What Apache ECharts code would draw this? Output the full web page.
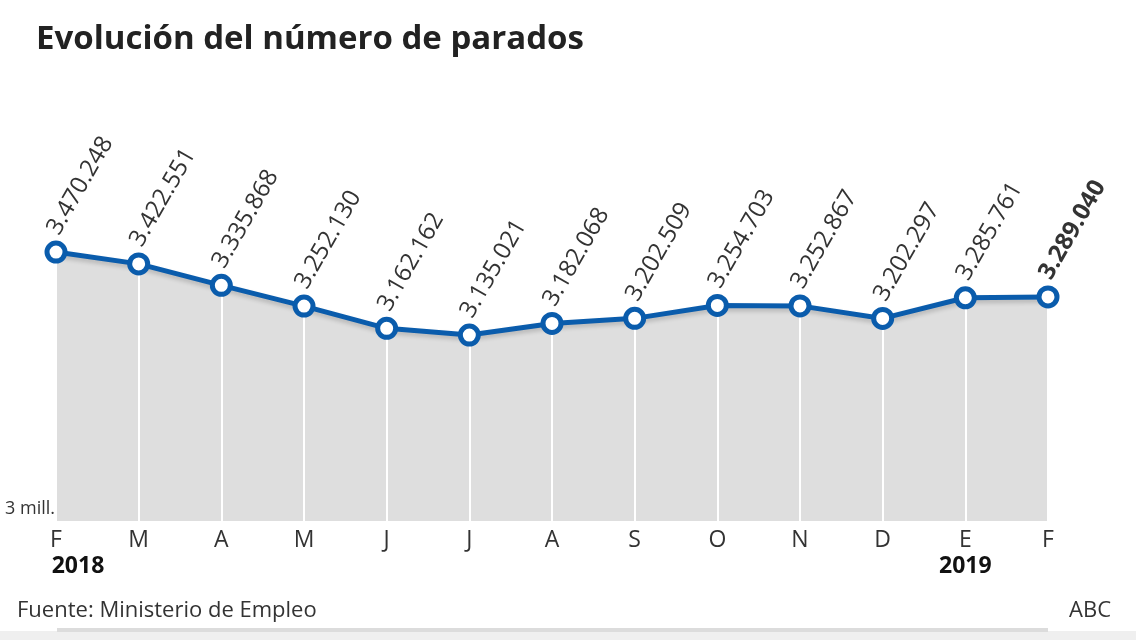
<!DOCTYPE html>
<html>
<head>
<meta charset="utf-8">
<script src="https://cdn.jsdelivr.net/npm/echarts@6/dist/echarts.min.js"></script>
<style>
html,body{margin:0;padding:0;background:#fff;}
#c{width:1136px;height:640px;}
</style>
</head>
<body>
<div id="c"></div>
<script>
const months = ['F','M','A','M','J','J','A','S','O','N','D','E','F'];
const years = {0:'2018', 11:'2019'};
const parados = [3470248, 3422551, 3335868, 3252130, 3162162, 3135021, 3182068, 3202509, 3254703, 3252867, 3202297, 3285761, 3289040];
const yMinLabel = '3 mill.';

const FONT = '"Open Sans", "Noto Sans", sans-serif';
const BLUE = '#0a5cac';

function fmt(v){ return String(v).replace(/\B(?=(\d{3})+(?!\d))/g, '.'); }

const chart = echarts.init(document.getElementById('c'), null, {renderer:'canvas'});
const last = parados.length - 1;
const seriesData = parados.map((v,i)=> i===last ? {value:v, label:{fontWeight:'bold'}} : v);

chart.setOption({
  animation:false,
  backgroundColor:'#fff',
  title:{
    text:'Evolución del número de parados',
    left:31, top:18,
    textStyle:{fontFamily:FONT, fontSize:33, fontWeight:'bold', color:'#222'}
  },
  grid:{left:56, right:88, top:140, bottom:119, containLabel:false},
  xAxis:{
    type:'category', data:months, boundaryGap:false,
    axisLine:{show:false}, axisTick:{show:false},
    splitLine:{show:true, lineStyle:{color:'#ffffff', width:2}},
    z:2,
    axisLabel:{
      margin:6, interval:0, color:'#333', fontFamily:FONT,
      formatter:(val, idx)=>{
        if (years[idx] !== undefined) {
          return '{m|'+val+'}\n{' + (idx===0?'y0':'y') + '|'+years[idx]+'}';
        }
        return '{m|'+val+'}';
      },
      rich:{
        m:{fontSize:23, color:'#333', fontFamily:FONT, lineHeight:26},
        y:{fontSize:23, fontWeight:'bold', color:'#111', fontFamily:FONT, lineHeight:26},
        y0:{fontSize:23, fontWeight:'bold', color:'#111', fontFamily:FONT, lineHeight:26, padding:[0,0,0,44]}
      }
    }
  },
  yAxis:{
    type:'value', min:2384000, max:3923000,
    show:false, splitLine:{show:false}
  },
  graphic:[
    {type:'text', right:1136-55, top:500, style:{text:yMinLabel, font:'18px '+FONT, fill:'#333', textAlign:'right'}},
    {type:'text', left:17, top:600, style:{text:'Fuente: Ministerio de Empleo', font:'22px '+FONT, fill:'#333'}},
    {type:'text', right:25, top:600, style:{text:'ABC', font:'22px '+FONT, fill:'#333'}},
    {type:'rect', shape:{x:0, y:631, width:1136, height:9}, style:{fill:'#efefef'}},
    {type:'rect', shape:{x:57, y:628, width:991, height:4}, style:{fill:'#dcdcdc'}}
  ],
  series:[{
    type:'line',
    data:parados,
    symbol:'none',
    lineStyle:{width:0, opacity:0},
    areaStyle:{color:'#dedede', opacity:1, origin:'start'},
    z:1,
    silent:true
  },{
    type:'line',
    data:seriesData,
    symbol:'circle', symbolSize:18,
    itemStyle:{color:'#fff', borderColor:BLUE, borderWidth:5},
    lineStyle:{color:BLUE, width:5, shadowColor:'rgba(0,0,0,0.18)', shadowBlur:4, shadowOffsetY:3},
    z:5,
    label:{
      show:true, position:'top', distance:5, rotate:60,
      align:'left', verticalAlign:'middle', offset:[1,-4],
      formatter:(p)=>fmt(p.value),
      fontFamily:FONT, fontSize:24, color:'#333'
    }
  }]
});
</script>
</body>
</html>
